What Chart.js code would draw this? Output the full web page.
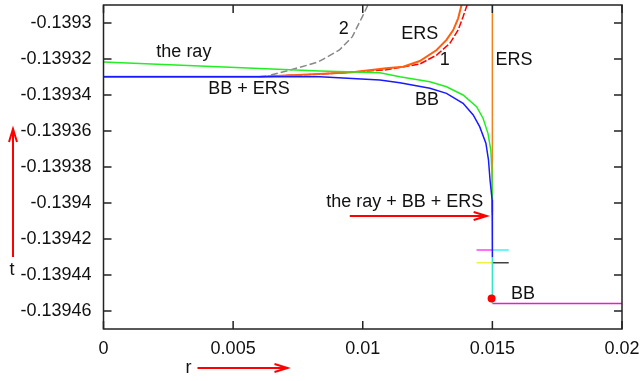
<!DOCTYPE html>
<html>
<head>
<meta charset="utf-8">
<script src="https://cdn.jsdelivr.net/npm/chart.js@4.4.1/dist/chart.umd.min.js"></script>
<style>
  html, body { margin: 0; padding: 0; background: #fff; }
  #wrap { width: 641px; height: 381px; }
</style>
</head>
<body>
<div id="wrap"><canvas id="chart" width="641" height="381"></canvas></div>
<script>
// axis ticks
const xTicks = [0, 0.005, 0.01, 0.015, 0.02];
const yTicks = [-0.13946, -0.13944, -0.13942, -0.1394, -0.13938, -0.13936, -0.13934, -0.13932, -0.1393];

// BB
const bbR = [0, 0.006, 0.00835, 0.01066, 0.01143, 0.01259, 0.01323, 0.01387, 0.01426, 0.01451, 0.01475, 0.01485, 0.01491, 0.01499, 0.015];
const bbT = [-0.1393298, -0.1393298, -0.1393299, -0.1393317, -0.1393332, -0.1393363, -0.1393391, -0.1393446, -0.1393511, -0.1393576, -0.1393668, -0.1393761, -0.1393872, -0.1393983, -0.1394302];

// the ray
const rayR = [0, 0.00835, 0.01066, 0.01143, 0.01259, 0.01323, 0.01387, 0.01439, 0.01464, 0.01483, 0.01494, 0.01498, 0.015];
const rayT = [-0.1393217, -0.1393267, -0.1393276, -0.1393298, -0.1393326, -0.1393354, -0.13934, -0.1393465, -0.1393529, -0.1393613, -0.1393706, -0.1393817, -0.1394067];

// ERS
const ersR = [0, 0.006, 0.0083, 0.0096, 0.0109, 0.01156, 0.0122, 0.01285, 0.01323, 0.01349, 0.01368, 0.01381];
const ersT = [-0.1393298, -0.1393298, -0.1393283, -0.1393274, -0.1393252, -0.1393243, -0.1393211, -0.139315, -0.1393094, -0.1393039, -0.1392974, -0.13929];
const ersVertR = [0.015, 0.015];
const ersVertT = [-0.13929, -0.139405];

// curve 1 (dashed red) and curve 2 (dashed gray)
const c1R = [0.006, 0.0083, 0.0109, 0.0122, 0.01285, 0.01336, 0.01368, 0.01387, 0.014025];
const c1T = [-0.1393298, -0.1393285, -0.139326, -0.1393228, -0.1393178, -0.1393113, -0.1393039, -0.1392965, -0.13929];
const c2R = [0.00646, 0.0072, 0.0079, 0.0083, 0.0091, 0.0096, 0.0100, 0.0102];
const c2T = [-0.1393289, -0.1393261, -0.1393233, -0.1393215, -0.139315, -0.1393076, -0.139296, -0.13929];

// bottom part
const tealR = [0.015, 0.015];
const tealT = [-0.1394302, -0.1394559];
const bbFlatR = [0.015, 0.02];
const bbFlatT = [-0.1394559, -0.1394559];
const markLeftR = [0.01439, 0.015];
const markRightR = [0.015, 0.01563];
const markUpperT = -0.1394261;
const markLowerT = -0.1394332;
const dotR = [0.01497];
const dotT = [-0.139453];

// text labels [text, r, t]
const labels = [
  ['the ray', 0.0031, -0.1393161],
  ['BB + ERS', 0.00561, -0.1393367],
  ['2', 0.00927, -0.1393033],
  ['ERS', 0.0122, -0.1393061],
  ['1', 0.01316, -0.1393206],
  ['ERS', 0.01583, -0.1393206],
  ['BB', 0.01248, -0.1393428],
  ['BB', 0.01618, -0.1394506],
  ['the ray + BB + ERS', 0.01162, -0.1393992]
];
const arrowR = [0.0095, 0.01478];
const arrowT = -0.1394072;

const pts = (xs, ys) => xs.map((x, i) => ({ x: x, y: Array.isArray(ys) ? ys[i] : ys }));
const line = (data, color, extra) => Object.assign({
  data: data, borderColor: color, backgroundColor: color, showLine: true,
  pointRadius: 0, borderWidth: 1.5, fill: false
}, extra || {});

const FONT = '"Liberation Sans", Arial, Helvetica, sans-serif';

function arrowHead(ctx, x, y, dir) {
  // dir: 'right' or 'up'
  ctx.beginPath();
  if (dir === 'right') {
    ctx.moveTo(x - 13, y - 4); ctx.lineTo(x, y); ctx.lineTo(x - 13, y + 4);
  } else {
    ctx.moveTo(x - 4, y + 13); ctx.lineTo(x, y); ctx.lineTo(x + 4, y + 13);
  }
  ctx.stroke();
}

const framePlugin = {
  id: 'frame',
  afterDatasetsDraw(chart) {
    const { ctx, chartArea: a, scales: { x, y } } = chart;
    ctx.save();
    ctx.strokeStyle = '#222';
    ctx.lineWidth = 1.5;
    ctx.strokeRect(a.left, a.top, a.right - a.left, a.bottom - a.top);
    ctx.beginPath();
    xTicks.forEach(v => {
      const px = x.getPixelForValue(v);
      ctx.moveTo(px, a.bottom); ctx.lineTo(px, a.bottom - 8);
      ctx.moveTo(px, a.top); ctx.lineTo(px, a.top + 8);
    });
    yTicks.forEach(v => {
      const py = y.getPixelForValue(v);
      ctx.moveTo(a.left, py); ctx.lineTo(a.left + 8, py);
      ctx.moveTo(a.right, py); ctx.lineTo(a.right - 8, py);
    });
    ctx.stroke();

    // labels
    ctx.fillStyle = '#111';
    ctx.font = '18px ' + FONT;
    ctx.textAlign = 'center';
    ctx.textBaseline = 'middle';
    labels.forEach(l => ctx.fillText(l[0], x.getPixelForValue(l[1]), y.getPixelForValue(l[2])));

    // red arrow to the vertical line
    ctx.strokeStyle = '#ff0000';
    ctx.lineWidth = 2;
    const ay = y.getPixelForValue(arrowT);
    const ax0 = x.getPixelForValue(arrowR[0]), ax1 = x.getPixelForValue(arrowR[1]);
    ctx.beginPath(); ctx.moveTo(ax0, ay); ctx.lineTo(ax1, ay); ctx.stroke();
    arrowHead(ctx, ax1, ay, 'right');

    // axis titles with arrows
    ctx.fillText('r', a.left + 85, a.bottom + 39);
    ctx.beginPath(); ctx.moveTo(a.left + 94, a.bottom + 39); ctx.lineTo(a.left + 184, a.bottom + 39); ctx.stroke();
    arrowHead(ctx, a.left + 184, a.bottom + 39, 'right');
    ctx.fillText('t', 12, 270);
    ctx.beginPath(); ctx.moveTo(13, 257); ctx.lineTo(13, 129); ctx.stroke();
    arrowHead(ctx, 13, 129, 'up');
    ctx.restore();
  }
};

new Chart(document.getElementById('chart'), {
  type: 'scatter',
  data: {
    datasets: [
      line(pts(dotR, dotT), '#ff0000', { showLine: false, pointRadius: 4, pointBorderWidth: 0 }),
      line(pts(bbR, bbT), '#1a1aff'),
      line(pts(tealR, tealT), '#30e8c8'),
      line(pts(bbFlatR, bbFlatT), '#e020d0'),
      line(pts(markLeftR, markUpperT), '#ff40ff'),
      line(pts(markRightR, markUpperT), '#40f0f0'),
      line(pts(markLeftR, markLowerT), '#f0f040'),
      line(pts(markRightR, markLowerT), '#404040'),
      line(pts(rayR, rayT), '#22ee22'),
      line(pts(ersVertR, ersVertT), '#f08020'),
      line(pts(ersR, ersT), '#ff6010', { borderWidth: 2 }),
      line(pts(c1R, c1T), '#ff0000', { borderDash: [7, 2] }),
      line(pts(c2R, c2T), '#888888', { borderDash: [7, 3] })
    ]
  },
  options: {
    responsive: false,
    animation: false,
    layout: { padding: { top: 5, right: 19, left: 0, bottom: 0 } },
    plugins: { legend: { display: false }, tooltip: { enabled: false } },
    scales: {
      x: {
        type: 'linear', min: 0, max: 0.02,
        grid: { display: false, drawTicks: false },
        border: { display: false },
        afterBuildTicks: s => { s.ticks = xTicks.map(v => ({ value: v })); },
        afterFit: s => { s.height = 52; s.paddingLeft = 0; s.paddingRight = 0; },
        ticks: {
          padding: 9, color: '#111', font: { family: FONT, size: 18 },
          callback: v => String(parseFloat(v.toFixed(4)))
        }
      },
      y: {
        type: 'linear', min: -0.13947, max: -0.13929,
        grid: { display: false, drawTicks: false },
        border: { display: false },
        afterBuildTicks: s => { s.ticks = yTicks.map(v => ({ value: v })); },
        afterFit: s => { s.width = 103.5; s.paddingTop = 0; s.paddingBottom = 0; },
        ticks: {
          padding: 12, color: '#111', font: { family: FONT, size: 18 },
          callback: v => String(parseFloat(v.toFixed(5)))
        }
      }
    }
  },
  plugins: [framePlugin]
});
</script>
</body>
</html>
